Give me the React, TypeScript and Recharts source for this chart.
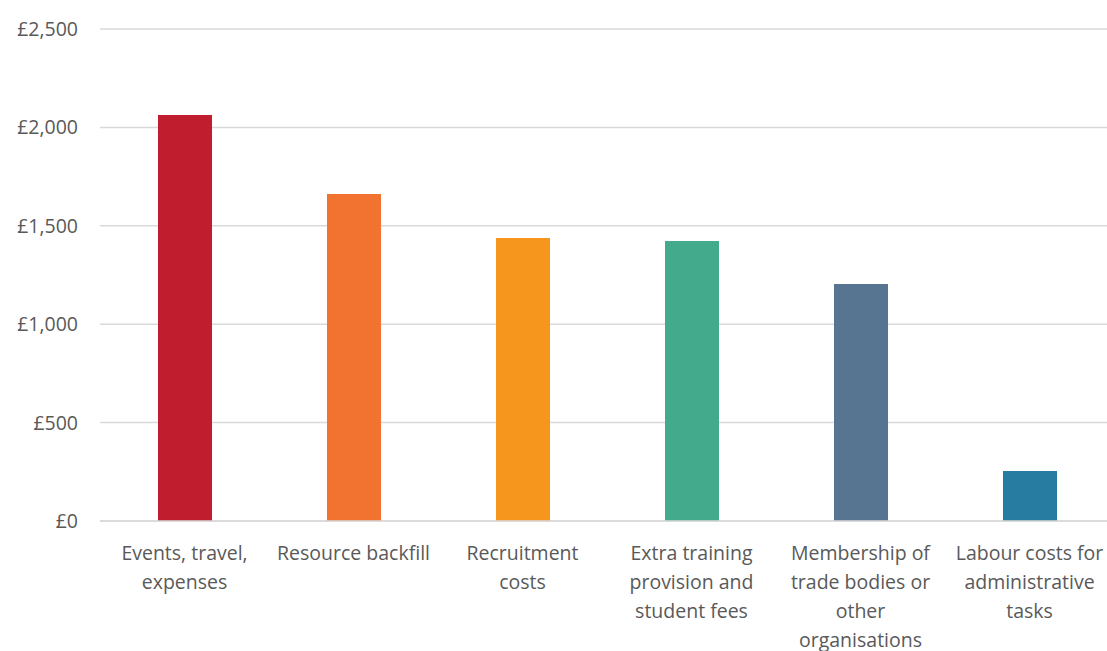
import * as React from 'react';
import { Bar, BarChart, CartesianGrid, Cell, XAxis, YAxis } from 'recharts';

// cost categories, one bar each
const categories = [
    'Events, travel, expenses',
    'Resource backfill',
    'Recruitment costs',
    'Extra training provision and student fees',
    'Membership of trade bodies or other organisations',
    'Labour costs for administrative tasks',
];

// wrapped tick labels, as shown under each bar
const tickLines = [
    ['Events, travel,', 'expenses'],
    ['Resource backfill'],
    ['Recruitment', 'costs'],
    ['Extra training', 'provision and', 'student fees'],
    ['Membership of', 'trade bodies or', 'other', 'organisations'],
    ['Labour costs for', 'administrative', 'tasks'],
];

const costs = [2063, 1661, 1438, 1423, 1204, 254];
const colors = ['#C01E2E', '#F2722F', '#F7961D', '#43AA8B', '#577590', '#277DA1'];
const yTicks = [0, 500, 1000, 1500, 2000, 2500];

const font = "'Open Sans', sans-serif";

const data = categories.map((name, i) => ({ name, idx: i, cost: costs[i] }));

const CategoryTick = (props: any) => {
    const { x, y, payload } = props;
    const lines = tickLines[payload.index] || [payload.value];
    return (
        <g transform={`translate(${x},${y})`}>
            {lines.map((line, i) => (
                <text key={i} x={0} y={24 + i * 29} dy="0.35em" textAnchor="middle"
                    fill="#595959" fontSize={19.5} fontFamily={font}>
                    {line}
                </text>
            ))}
        </g>
    );
};

const pounds = (v: number) => '£' + v.toLocaleString('en-GB');

export default function App() {
    return (
        <div style={{ position: 'absolute', left: 8, top: 8, width: 1099, height: 643, overflow: 'hidden' }}>
            <BarChart width={1110} height={643} data={data}
                margin={{ top: 21, right: 4, left: 0, bottom: 0 }}>
                <CartesianGrid vertical={false} stroke="#D9D9D9" strokeWidth={1.5} />
                <XAxis dataKey="name" height={130} tickLine={false}
                    axisLine={{ stroke: '#D9D9D9', strokeWidth: 1.5 }}
                    tick={<CategoryTick />} interval={0} />
                <YAxis width={92} domain={[0, 2500]} ticks={yTicks} tickFormatter={pounds}
                    axisLine={false} tickLine={false} tickMargin={16}
                    tick={{ fill: '#595959', fontSize: 19.5, fontFamily: font }} />
                <Bar dataKey="cost" barSize={54} isAnimationActive={false}>
                    {data.map((d, i) => (
                        <Cell key={d.name} fill={colors[i]} />
                    ))}
                </Bar>
            </BarChart>
        </div>
    );
}
